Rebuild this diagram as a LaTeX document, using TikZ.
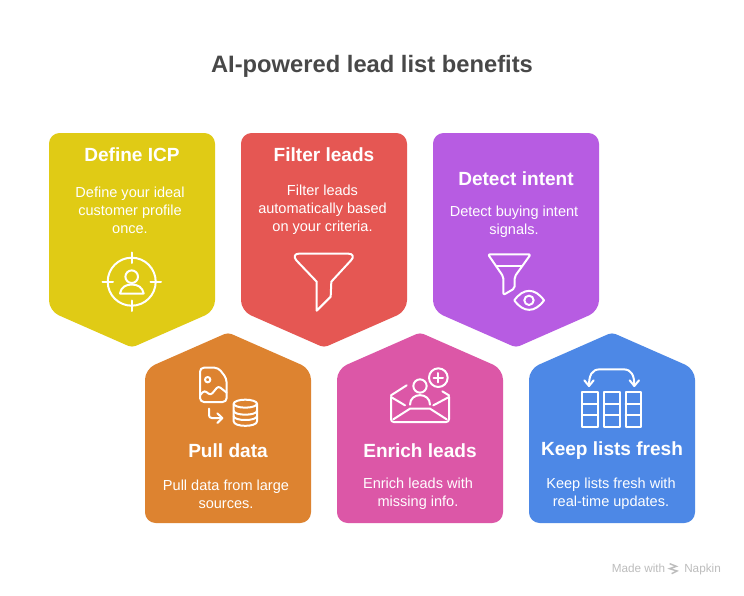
\documentclass[tikz,border=0pt]{standalone}
\usepackage{fontspec}
\setmainfont{Liberation Sans}
\definecolor{cyellow}{HTML}{E0CB15}
\definecolor{cred}{HTML}{E55753}
\definecolor{cpurple}{HTML}{B75CE2}
\definecolor{corange}{HTML}{DD8330}
\definecolor{cpink}{HTML}{DC57A7}
\definecolor{cblue}{HTML}{4D88E6}
\definecolor{ctitle}{HTML}{484848}
\definecolor{cfoot}{HTML}{BDBDBD}
\tikzset{
  headtext/.style={text=white,font=\fontsize{14.3pt}{17pt}\selectfont\bfseries,inner sep=0pt,anchor=center},
  bodytext/.style={text=white,font=\fontsize{10.9pt}{13.5pt}\selectfont,align=center,inner sep=0pt,anchor=center},
  titletext/.style={text=ctitle,font=\fontsize{17.8pt}{21pt}\selectfont\bfseries,inner sep=0pt},
  foottext/.style={text=cfoot,font=\fontsize{8.8pt}{10pt}\selectfont,inner sep=0pt},
  ico/.style={draw=white,line width=1.5pt,line join=round,line cap=round},
}
\newcommand{\downcard}[2]{%
  \fill[#2,rounded corners=8pt] (#1,133) -- ++(166,0) -- ++(0,178) [rounded corners=3pt] -- ++(-83,36.500) [rounded corners=8pt] -- ++(-83,-36.500) -- cycle;}
\newcommand{\upcard}[2]{%
  \fill[#2,rounded corners=8pt] (#1,523) -- ++(166,0) -- ++(0,-154) [rounded corners=3pt] -- ++(-83,-36.500) [rounded corners=8pt] -- ++(-83,36.500) -- cycle;}
\begin{document}
\begin{tikzpicture}[x=0.75pt,y=-0.75pt]
\useasboundingbox (0,0) rectangle (744,596);
\fill[white] (0,0) rectangle (744,596);
\node[titletext] (title) at (372,66) {AI-powered lead list benefits};

\downcard{49}{cyellow}
\downcard{241}{cred}
\downcard{433}{cpurple}
\upcard{145}{corange}
\upcard{337}{cpink}
\upcard{529}{cblue}

\node[headtext] (h1) at (132,155) {Define ICP};
\node[bodytext] (b1) at (130,210) {Define your ideal\\customer profile\\once.};
\node[headtext] (h2) at (324,155) {Filter leads};
\node[bodytext] (b2) at (322.500,210) {Filter leads\\automatically based\\on your criteria.};
\node[headtext] (h3) at (516,179) {Detect intent};
\node[bodytext] (b3) at (514,221.500) {Detect buying intent\\signals.};
\node[headtext] (h4) at (228,451) {Pull data};
\node[bodytext] (b4) at (226,494) {Pull data from large\\sources.};
\node[headtext] (h5) at (420,451) {Enrich leads};
\node[bodytext] (b5) at (418,494) {Enrich leads with\\missing info.};
\node[headtext] (h6) at (612,451) {Keep lists fresh};
\node[bodytext] (b6) at (611,494) {Keep lists fresh with\\real-time updates.};

% ICP target
\begin{scope}[ico]
\draw (131.700,281.700) circle (24);
\draw (131.700,252.500) -- (131.700,263);
\draw (131.700,300.500) -- (131.700,311);
\draw (102.500,281.700) -- (113,281.700);
\draw (150.500,281.700) -- (161,281.700);
\draw (131.700,276.700) circle (6.300);
\draw (120,293.500) .. controls (121,287) and (126,284.500) .. (131.700,284.500) .. controls (137.500,284.500) and (142.500,287) .. (143.700,293.500) -- cycle;
\end{scope}

% funnel
\begin{scope}[shift={(285,245)},x=0.25pt,y=-0.25pt,ico]
\draw (95,197) -- (95,110) -- (34,46) .. controls (24,34) and (30,26) .. (42,26) -- (190,26) .. controls (204,26) and (208,36) .. (198,46) -- (139,110) -- (137,155) -- cycle;
\end{scope}

% funnel + eye
\begin{scope}[shift={(480,245)},x=0.25pt,y=-0.25pt,ico]
\draw[rounded corners=1.5pt] (70,150) -- (70,95) -- (24,28) -- (152,28) -- (104,95) -- (104,130) -- cycle;
\draw (50,64) -- (126,64);
\draw (103,166) .. controls (130,128) and (165,128) .. (192,166) .. controls (165,204) and (130,204) .. (103,166) -- cycle;
\draw (147,166) circle (14);
\end{scope}

% file + database
\begin{scope}[shift={(190,362)},x=0.25pt,y=-0.25pt,ico]
\draw[rounded corners=3pt] (30,17) -- (85,17) -- (110,50) -- (110,120) -- (30,120) -- cycle;
\draw (53,53) circle (8);
\draw[rounded corners=2pt] (30,100) -- (43,85) -- (62,100) -- (85,72) -- (110,92);
\draw[rounded corners=2pt] (57,140) -- (57,168) -- (96,168);
\draw (82,154) -- (97,168) -- (82,183);
\draw (166,125) ellipse (35 and 12);
\draw (131,125) -- (131,178) .. controls (131,196) and (201,196) .. (201,178) -- (201,125);
\draw (131,146) .. controls (131,162) and (201,162) .. (201,146);
\draw (131,162) .. controls (131,178) and (201,178) .. (201,162);
\end{scope}

% envelope
\begin{scope}[shift={(385,362)},x=0.25pt,y=-0.25pt,ico]
\draw[rounded corners=2pt] (18,105) -- (18,180) -- (192,180) -- (192,105);
\draw (18,100) -- (65,70);
\draw (172,88) -- (192,100);
\draw (18,105) -- (60,130);
\draw (192,105) -- (145,130);
\draw (25,172) -- (75,140) -- (135,140) -- (185,172);
\draw (105,72) circle (20);
\draw (75,128) .. controls (75,90) and (135,90) .. (135,128);
\draw (160,47) circle (28);
\draw (160,33) -- (160,61);
\draw (146,47) -- (174,47);
\end{scope}

% table
\begin{scope}[shift={(575,362)},x=0.25pt,y=-0.25pt,ico]
\draw (22,90) rectangle (68,195);
\draw (88,90) rectangle (134,195);
\draw (152,90) rectangle (198,195);
\draw (22,125) -- (68,125) (22,160) -- (68,160);
\draw (88,125) -- (134,125) (88,160) -- (134,160);
\draw (152,125) -- (198,125) (152,160) -- (198,160);
\draw (42,72) .. controls (42,40) and (50,22) .. (75,22) -- (145,22) .. controls (170,22) and (178,40) .. (178,72);
\draw (28,55) -- (42,72) -- (56,55);
\draw (164,55) -- (178,72) -- (192,55);
\end{scope}

\node[foottext,anchor=base west] (made) at (611.500,572) {Made with};
\node[foottext,anchor=base west] (napkin) at (684,572) {Napkin};
\begin{scope}[shift={(605,555)},x=0.25pt,y=-0.25pt]
\draw[cfoot,line width=1.1pt] (194,26) -- (214,34) -- (194,41) -- (216,48) -- (200,56);
\end{scope}
\end{tikzpicture}
\end{document}
